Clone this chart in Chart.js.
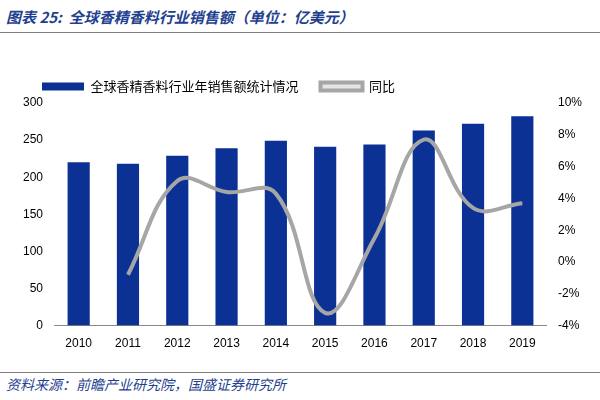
<!DOCTYPE html>
<html>
<head>
<meta charset="utf-8">
<script src="https://cdn.jsdelivr.net/npm/chart.js@4"></script>
<style>
  body { margin: 0; width: 600px; height: 400px; background: #fff; font-family: "Noto Sans CJK SC", sans-serif; position: relative; overflow: hidden; }
  #title { position: absolute; left: 6px; top: 6px; font-size: 15px; font-style: italic; font-weight: bold; color: #1f3f8f; }
  #topline { position: absolute; left: 0; top: 32px; width: 600px; border-top: 1px solid #7f7f7f; }
  #foot { position: absolute; left: 6px; top: 374px; font-size: 14px; font-style: italic; color: #1f3f8f; }
  #botline { position: absolute; left: 0; top: 372px; width: 600px; border-top: 1px solid #7f7f7f; }
  #wrap { position: absolute; left: 0; top: 58px; width: 600px; height: 296px; }
</style>
</head>
<body>
<div id="title">图表 25:&nbsp; 全球香精香料行业销售额（单位：亿美元）</div>
<div id="topline"></div>
<div id="wrap"><canvas id="c"></canvas></div>
<div id="botline"></div>
<div id="foot">资料来源：前瞻产业研究院，国盛证券研究所</div>
<script>
const years = ['2010','2011','2012','2013','2014','2015','2016','2017','2018','2019'];
const sales = [220, 218, 229, 239, 249, 241, 244, 263, 272, 282];
const growth = [null, -0.8, 5.1, 4.4, 4.3, -3.2, 1.5, 7.7, 3.4, 3.7];

new Chart(document.getElementById('c'), {
  data: {
    labels: years,
    datasets: [
      { type: 'line', label: '同比', data: growth, yAxisID: 'y1', borderColor: '#a6a6a6', borderWidth: 4, pointRadius: 0, tension: 0.4, order: 0 },
      { type: 'bar', label: '全球香精香料行业年销售额统计情况', data: sales, yAxisID: 'y', backgroundColor: '#0b3194', barPercentage: 0.5, categoryPercentage: 0.9, order: 1 }
    ]
  },
  options: {
    responsive: true, maintainAspectRatio: false, animation: false,
    layout: { padding: { left: 20, right: 15 } },
    plugins: {
      legend: {
        reverse: true, align: 'start',
        labels: { font: { size: 13, family: 'Noto Sans CJK SC' }, color: '#000', boxWidth: 42, boxHeight: 8, padding: 22 }
      },
      tooltip: { enabled: false }
    },
    scales: {
      x: { grid: { display: false }, border: { color: '#888' }, ticks: { color: '#000', font: { size: 12 } } },
      y: { min: 0, max: 300, ticks: { stepSize: 50, color: '#000', font: { size: 12 } }, grid: { display: false }, border: { display: false } },
      y1: { position: 'right', min: -4, max: 10, ticks: { stepSize: 2, color: '#000', font: { size: 12 }, callback: v => v + '%' }, grid: { display: false }, border: { display: false } }
    }
  }
});
</script>
</body>
</html>
